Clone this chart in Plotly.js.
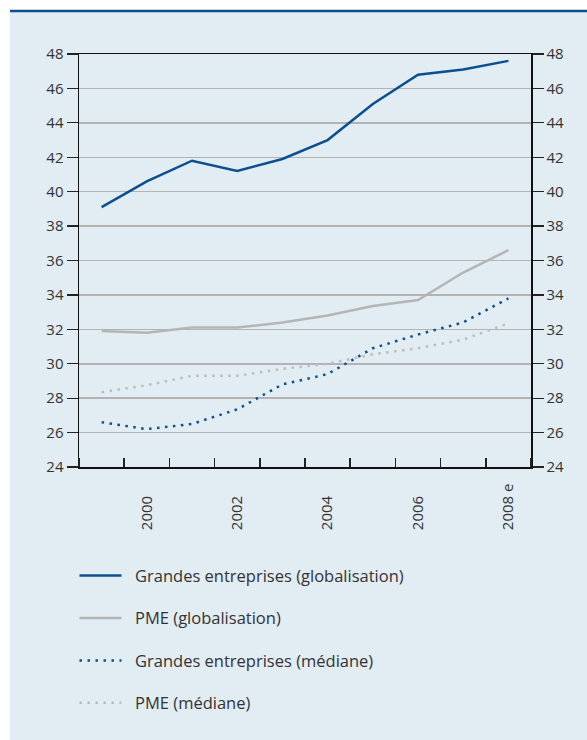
<!DOCTYPE html>
<html>
<head>
<meta charset="utf-8">
<script src="https://cdn.plot.ly/plotly-3.0.1.min.js"></script>
<style>
html,body{margin:0;padding:0;background:#fff;}
#chart{width:587px;height:740px;}
</style>
</head>
<body>
<div id="chart"></div>
<script>
const years = [1999, 2000, 2001, 2002, 2003, 2004, 2005, 2006, 2007, 2008];
const tickYears = [2000, 2002, 2004, 2006, 2008];
const tickLabels = ["2000", "2002", "2004", "2006", "2008 e"];
const grandesGlob = [39.1, 40.6, 41.8, 41.2, 41.9, 43.0, 45.1, 46.8, 47.1, 47.6];
const pmeGlob = [31.9, 31.8, 32.1, 32.1, 32.4, 32.8, 33.35, 33.7, 35.3, 36.6];
const grandesMed = [26.6, 26.2, 26.5, 27.35, 28.8, 29.4, 30.9, 31.7, 32.4, 33.8];
const pmeMed = [28.35, 28.75, 29.3, 29.3, 29.7, 30.0, 30.55, 30.9, 31.4, 32.35];
const names = ["Grandes entreprises (globalisation)", "PME (globalisation)", "Grandes entreprises (médiane)", "PME (médiane)"];

const blue = "#0b4f8f";
const grey = "#b5b5b5";
const font = "'Open Sans', 'Noto Sans', sans-serif";
const pad = "\u00a0\u00a0";

const traces = [
  {x: years, y: grandesGlob, name: pad + names[0], mode: "lines", line: {color: blue, width: 2.5}, legendgroup: "a"},
  {x: years, y: pmeGlob, name: pad + names[1], mode: "lines", line: {color: grey, width: 2.5}, legendgroup: "b"},
  {x: years, y: grandesMed, name: pad + names[2], mode: "lines", line: {color: blue, width: 2.5, dash: "2.5px,5.5px"}, legendgroup: "c"},
  {x: years, y: pmeMed, name: pad + names[3], mode: "lines", line: {color: "#bdbdbd", width: 2.5, dash: "2.5px,5.5px"}, legendgroup: "d"},
  {x: years, y: pmeMed, yaxis: "y2", mode: "lines", line: {width: 0}, showlegend: false, hoverinfo: "skip", opacity: 0}
];

// invisible suffix to align rotated labels at their start
const ticktext = tickLabels.map(t => t.indexOf(" e") >= 0 ? t : t + '<span style="color:rgba(0,0,0,0)"> e</span>');

const yBase = {
  range: [24, 48], dtick: 2, tick0: 24,
  ticks: "outside", ticklen: 11, tickwidth: 1.3, tickcolor: "#222",
  showline: true, linecolor: "#111", linewidth: 1.5,
  tickfont: {family: font, size: 15, color: "#333"},
  fixedrange: true, zeroline: false
};

const layout = {
  width: 587, height: 740,
  margin: {l: 79, r: 56, t: 54, b: 273},
  paper_bgcolor: "#ffffff",
  plot_bgcolor: "#ffffff",
  font: {family: font, color: "#333"},
  showlegend: true,
  xaxis: {
    range: [1998.5, 2008.5],
    tickvals: tickYears, ticktext: ticktext, tickangle: -90,
    ticks: "", showgrid: false, zeroline: false,
    showline: true, linecolor: "#111", linewidth: 1.5, mirror: true,
    tickfont: {family: font, size: 15, color: "#333"},
    ticklabelstandoff: 9,
    minor: {tickmode: "linear", tick0: 1999.5, dtick: 1, ticks: "inside", ticklen: 9, tickwidth: 1.5, tickcolor: "#222", showgrid: false},
    fixedrange: true
  },
  yaxis: Object.assign({}, yBase, {showgrid: true, gridcolor: "#b3b3b3", gridwidth: 1.5, side: "left"}),
  yaxis2: Object.assign({}, yBase, {overlaying: "y", side: "right", showgrid: false}),
  legend: {
    x: -0.01, xanchor: "left", y: -0.221, yanchor: "top",
    orientation: "v", bgcolor: "rgba(0,0,0,0)",
    font: {family: font, size: 16.5, color: "#333"},
    tracegroupgap: 18, itemwidth: 42
  },
  shapes: [
    {type: "rect", xref: "paper", yref: "paper", x0: (10-79)/452, x1: (587-79)/452, y0: (467-740)/413, y1: (467-12)/413,
     fillcolor: "#e2ecf3", line: {width: 0}, layer: "below"},
    {type: "line", xref: "paper", yref: "paper", x0: (10-79)/452, x1: (587-79)/452, y0: (467-11)/413, y1: (467-11)/413,
     line: {color: "#0b4f8f", width: 2.5}}
  ]
};

Plotly.newPlot("chart", traces, layout, {displayModeBar: false, staticPlot: true});
</script>
</body>
</html>
